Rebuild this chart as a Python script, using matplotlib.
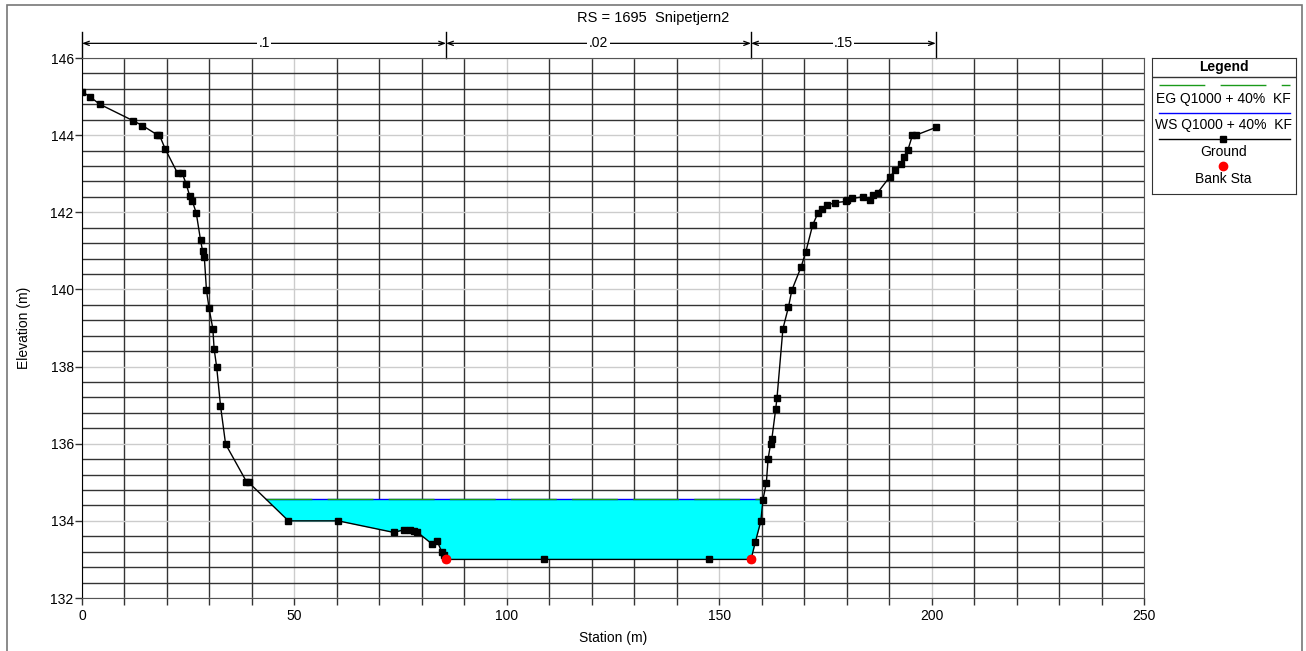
import numpy as np
import matplotlib
matplotlib.use("Agg")
import matplotlib.pyplot as plt
from matplotlib.patches import Rectangle
from matplotlib.lines import Line2D

plt.rcParams['font.family'] = ['Liberation Sans', 'DejaVu Sans']

# cross section data
station = [0, 1.8, 4.2, 12.1, 14.2, 17.7, 18.2, 19.6, 22.5, 23.6, 24.5, 25.4, 26.0,
           26.9, 27.9, 28.4, 28.8, 29.3, 29.9, 30.8, 31.1, 31.7, 32.6, 33.8, 38.7,
           39.2, 48.6, 60.3, 73.4, 75.8, 77.1, 78.1, 78.9, 82.4, 83.6, 84.7, 85.1,
           85.7, 108.7, 147.7, 157.5, 158.5, 159.8, 160.3, 161.1, 161.5, 162.1, 162.4,
           163.3, 163.6, 165.0, 166.3, 167.1, 169.3, 170.4, 172.0, 173.2, 174.2, 175.4,
           177.2, 179.8, 180.2, 181.3, 183.8, 185.5, 186.1, 187.3, 190.1, 191.5, 192.8,
           193.4, 194.4, 195.5, 196.3, 201.0]
ground = [145.13, 145.0, 144.8, 144.37, 144.25, 144.01, 144.01, 143.64, 143.01, 143.01,
          142.74, 142.41, 142.28, 141.98, 141.28, 140.99, 140.83, 139.98, 139.52, 138.98,
          138.46, 137.99, 136.99, 135.99, 135.02, 135.0, 134.0, 134.0, 133.70, 133.77,
          133.76, 133.75, 133.71, 133.40, 133.48, 133.19, 133.12, 133.0, 133.0, 133.0,
          133.0, 133.45, 133.99, 134.55, 134.98, 135.6, 136.0, 136.13, 136.9, 137.18,
          138.98, 139.54, 139.98, 140.59, 140.98, 141.67, 141.97, 142.08, 142.18, 142.25,
          142.28, 142.32, 142.36, 142.40, 142.32, 142.45, 142.51, 142.91, 143.10, 143.24,
          143.43, 143.61, 144.0, 144.0, 144.2]
bank_sta = [85.7, 157.5]
ws_elev = 134.56
eg_elev = 134.565
n_breaks = [0, 85.7, 157.5, 201.0]
n_values = ['.1', '.02', '.15']
title = 'RS = 1695  Snipetjern2'

st = np.array(station)
gr = np.array(ground)


def crossing(x, y, level):
    # first and last crossing of the ground with a water level
    wet = y <= level
    i0 = np.argmax(wet)
    i1 = len(wet) - 1 - np.argmax(wet[::-1])
    xl = np.interp(level, [y[i0], y[i0 - 1]], [x[i0], x[i0 - 1]])
    xr = np.interp(level, [y[i1], y[i1 + 1]], [x[i1], x[i1 + 1]])
    return xl, xr


fig = plt.figure(figsize=(13.06, 6.51), dpi=100)
ax = fig.add_axes([82 / 1306, 1 - 598 / 651, 1062 / 1306, 540 / 651])

ax.set_xlim(0, 250)
ax.set_ylim(132, 146)
ax.set_xticks(np.arange(0, 251, 50))
ax.set_xticks(np.arange(0, 251, 10), minor=True)
ax.set_yticks(np.arange(132, 146.1, 2))
ax.set_yticks(np.arange(132, 146.1, 0.4), minor=True)
ax.tick_params(axis='x', which='both', direction='out', length=5, width=1,
               color='#333333', labelsize=10, pad=3)
ax.tick_params(axis='y', which='major', direction='out', length=5, width=1,
               color='#333333', labelsize=10, pad=1)
ax.tick_params(axis='y', which='minor', length=0)
ax.set_axisbelow(True)
ax.grid(which='minor', color='#333333', linewidth=1.0)
ax.grid(which='major', color='#cccccc', linewidth=1.0)
for s in ['top', 'right', 'bottom']:
    ax.spines[s].set_color('#555555')
ax.spines['left'].set_color('black')

# water
xl, xr = crossing(st, gr, ws_elev)
xs = np.concatenate([[xl], st[(st > xl) & (st < xr)], [xr]])
ys = np.interp(xs, st, gr)
ax.fill_between(xs, ys, ws_elev, color='#00ffff', linewidth=0, zorder=1)
ax.plot([xl, xr], [ws_elev, ws_elev], color='blue', linewidth=1, zorder=2)
ax.plot([xl, xr], [eg_elev, eg_elev], color='#1a9a1a', linewidth=1,
        dashes=(33, 11), zorder=2)

# ground and banks
ax.plot(st, gr, color='black', linewidth=1, marker='s', markersize=4.5, zorder=3)
ax.plot(bank_sta, np.interp(bank_sta, st, gr), 'o', color='red',
        markersize=6, zorder=4)

ax.set_xlabel('Station (m)', fontsize=10, labelpad=6)
ax.set_ylabel('Elevation (m)', fontsize=10, labelpad=14)

# manning's n markers above the plot
for b in n_breaks:
    ax.plot([b, b], [146, 146.67], color='black', linewidth=1, clip_on=False)
for i, label in enumerate(n_values):
    a, b = n_breaks[i], n_breaks[i + 1]
    ax.annotate('', xy=(a, 146.38), xytext=(b, 146.38), annotation_clip=False,
                arrowprops=dict(arrowstyle='<->,head_length=0.4,head_width=0.15',
                                color='black', linewidth=0.9, shrinkA=0, shrinkB=0))
    ax.text((a + b) / 2, 146.38, label, ha='center', va='center', fontsize=10,
            bbox=dict(facecolor='white', edgecolor='none', pad=1), clip_on=False)

fig.text(0.5, 1 - 18 / 651, title, ha='center', va='center', fontsize=10.5)

# figure border
fig.patches.append(Rectangle((7 / 1306, -0.01), 1295 / 1306, 1 - 5 / 651 + 0.01,
                             transform=fig.transFigure, fill=False,
                             edgecolor='#777777', linewidth=1.2))

# legend box
lg = fig.add_axes([1151.7 / 1306, 1 - 194 / 651, 144 / 1306, 135.7 / 651])
lg.set_xlim(0, 144)
lg.set_ylim(135.7, 0)
lg.set_xticks([])
lg.set_yticks([])
for s in lg.spines.values():
    s.set_color('#333333')
lg.text(72, 8.4, 'Legend', ha='center', va='center', fontsize=10, fontweight='bold')
lg.add_line(Line2D([0, 144], [18.4, 18.4], color='#333333', linewidth=1))
lg.add_line(Line2D([7.7, 138], [26.4, 26.4], color='#1a9a1a', linewidth=1, dashes=(33, 11)))
lg.text(72, 40.7, 'EG Q1000 + 40%  KF', ha='center', va='center', fontsize=10)
lg.add_line(Line2D([7.7, 138], [55, 55], color='blue', linewidth=1))
lg.text(72, 66.7, 'WS Q1000 + 40%  KF', ha='center', va='center', fontsize=10)
lg.add_line(Line2D([7.7, 138], [81, 81], color='black', linewidth=1))
lg.plot([71.5], [81], 's', color='black', markersize=4.5)
lg.text(72, 93.4, 'Ground', ha='center', va='center', fontsize=10)
lg.plot([71.5], [108], 'o', color='red', markersize=6)
lg.text(72, 121, 'Bank Sta', ha='center', va='center', fontsize=10)

fig.savefig('out.png', dpi=100)
